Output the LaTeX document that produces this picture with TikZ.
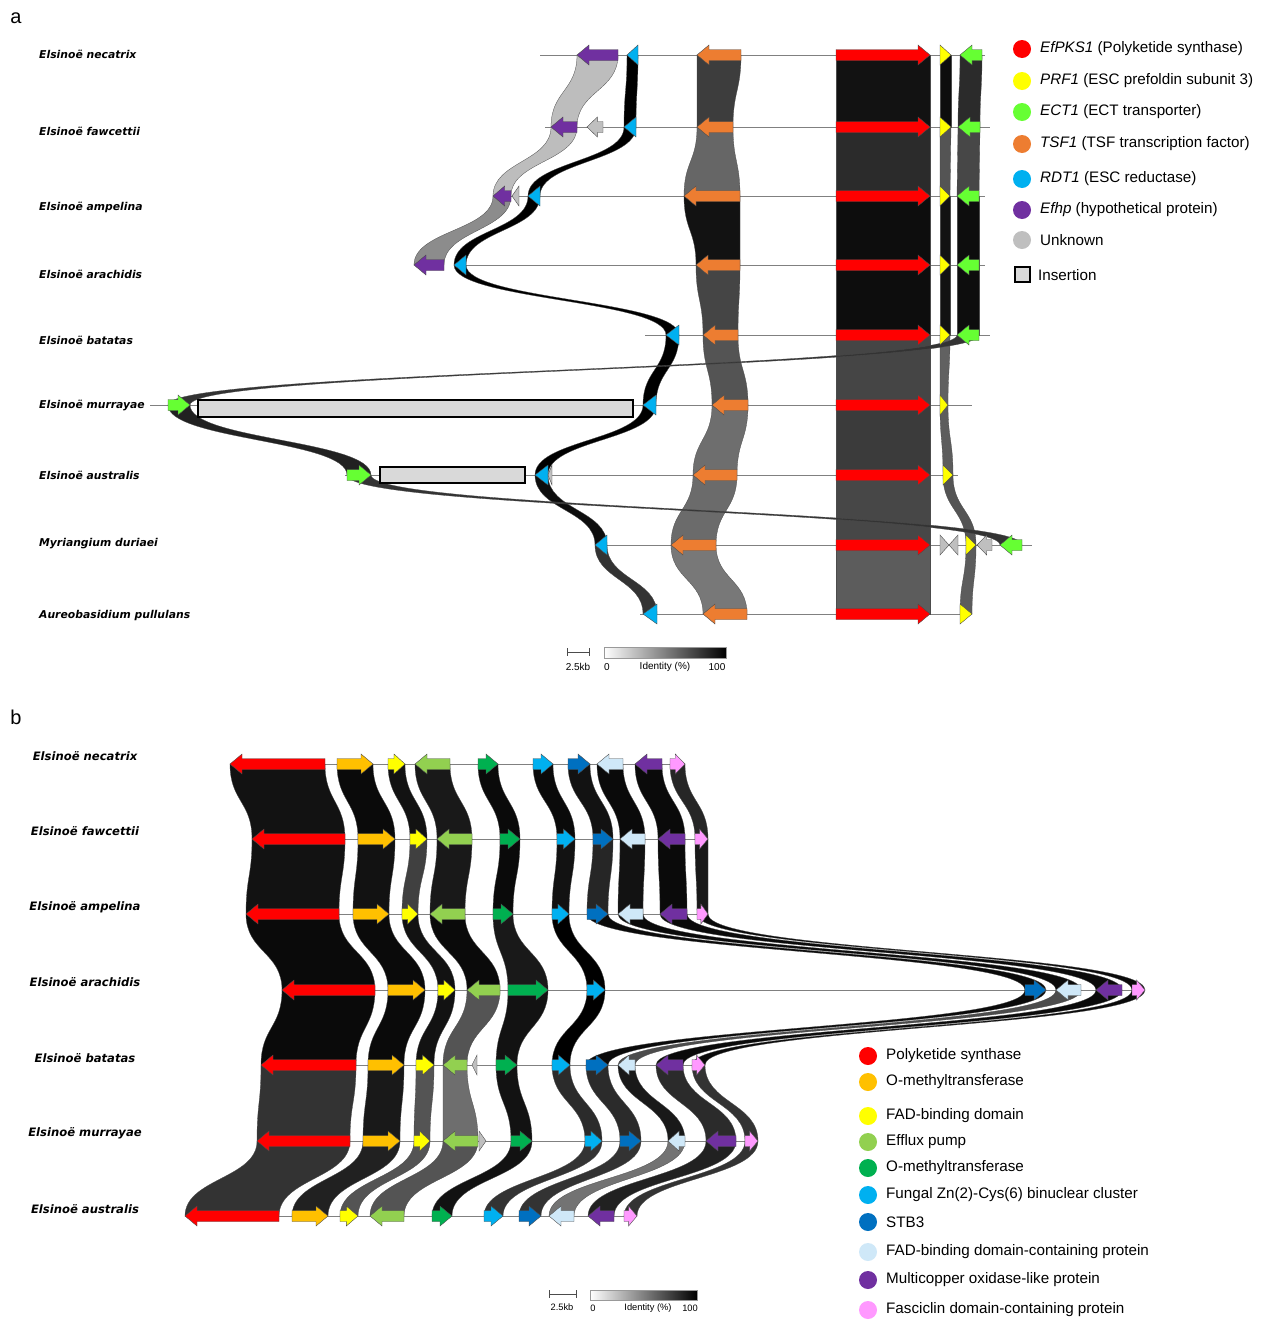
\documentclass[tikz,border=0pt]{standalone}
\usepackage{fontspec}
\setmainfont{Liberation Sans}
\newfontfamily\spfont{DejaVu Sans}
\usepackage{tikz}
\usetikzlibrary{calc}
\definecolor{pks}{HTML}{FF0000}
\definecolor{prf}{HTML}{FFFF00}
\definecolor{ect}{HTML}{66FF33}
\definecolor{tsf}{HTML}{ED7D31}
\definecolor{rdt}{HTML}{00B0F0}
\definecolor{efhp}{HTML}{7030A0}
\definecolor{unk}{HTML}{BFBFBF}
\definecolor{omt}{HTML}{FFC000}
\definecolor{effl}{HTML}{92D050}
\definecolor{omtb}{HTML}{00B050}
\definecolor{stb}{HTML}{0070C0}
\definecolor{fadc}{HTML}{CFE8F8}
\definecolor{fas}{HTML}{FF99FF}
\tikzset{
    gene/.style={draw=black!70,line width=0.4pt,line join=miter},
    band/.style={draw=black!70,line width=0.3pt},
    rowline/.style={draw=black!50,line width=0.9pt},
    insertion/.style={draw=black,line width=1.4pt,fill=black!15},
    species/.style={font=\spfont\bfseries\itshape\fontsize{10.8}{12}\selectfont,inner sep=0pt},
    legend text/.style={font=\fontsize{15.2}{17}\selectfont,anchor=west,inner sep=0pt},
    scale text/.style={font=\fontsize{10}{11}\selectfont,inner sep=0pt},
    panel/.style={font=\fontsize{20}{22}\selectfont,inner sep=0pt}
}
% gene arrows: colour, x1, x2, y
\newcommand\geneR[4]{%
  \pgfmathsetmacro\hx{#3-min(12,0.65*(#3-#2))}%
  \draw[gene,fill=#1] (#2,#4-5.5) -- (\hx,#4-5.5) -- (\hx,#4-10) -- (#3,#4)
    -- (\hx,#4+10) -- (\hx,#4+5.5) -- (#2,#4+5.5) -- cycle;}
\newcommand\geneL[4]{%
  \pgfmathsetmacro\hx{#2+min(12,0.65*(#3-#2))}%
  \draw[gene,fill=#1] (#3,#4-5.5) -- (\hx,#4-5.5) -- (\hx,#4-10) -- (#2,#4)
    -- (\hx,#4+10) -- (\hx,#4+5.5) -- (#3,#4+5.5) -- cycle;}
\newcommand\genetR[4]{\draw[gene,fill=#1] (#2,#4-10) -- (#3,#4) -- (#2,#4+10) -- cycle;}
\newcommand\genetL[4]{\draw[gene,fill=#1] (#3,#4-10) -- (#2,#4) -- (#3,#4+10) -- cycle;}
\newcommand\gene[5]{\csname gene#1\endcsname{#2}{#3}{#4}{#5}}
% link band: shade, x1, x2, y (top row), x1, x2, y (bottom row)
\newcommand\band[7]{%
  \pgfmathsetmacro\ym{(#4+#7)/2}%
  \draw[band,fill=#1] (#2,#4) .. controls (#2,\ym) and (#5,\ym) .. (#5,#7)
    -- (#6,#7) .. controls (#6,\ym) and (#3,\ym) .. (#3,#4) -- cycle;}

\begin{document}
\begin{tikzpicture}[x=1pt,y=-1pt]
\useasboundingbox (0,0) rectangle (1265,1320);
\node[panel] (pa) at (16,18) {a};
\node[panel] (pb) at (16,717) {b};

%%% panel a
\foreach \nm/\y [count=\i] in {{Elsinoë necatrix}/54,{Elsinoë fawcettii}/131,{Elsinoë ampelina}/207,
    {Elsinoë arachidis}/274,{Elsinoë batatas}/340,{Elsinoë murrayae}/405,{Elsinoë australis}/475,
    {Myriangium duriaei}/544,{Aureobasidium pullulans}/616}
    \node[species,anchor=west] (spa-\i) at (39,\y) {\nm};
\foreach \xa/\xb/\y in {540/985/55,545/990/127,505/985/196,455/985/265,645/990/335,
    150/972/405,345/958/475,595/1032/545,640/972/614}
    \draw[rowline] (\xa,\y) -- (\xb,\y);
% links
\foreach \sh/\xa/\xb/\ya/\xc/\xd/\yb in {26/577/618/55/551/577/127,26/551/577/127/493/511/196,
    45/493/511/196/414/444/265,
    100/627/638/55/624/636/127,100/624/636/127/528/540/196,100/528/540/196/454/466/265,
    100/454/466/265/666/679/335,100/666/679/335/643/656/405,100/643/656/405/535/548/475,
    95/535/548/475/595/607/545,80/595/607/545/643/657/614,
    76/697/741/55/697/733/127,60/697/733/127/684/740/196,93/684/740/196/696/740/265,
    73/696/740/265/703/738/335,67/703/738/335/712/748/405,57/712/748/405/693/737/475,
    58/693/737/475/671/716/545,53/671/716/545/703/747/614,
    93/836/930/55/836/930/127,83/836/930/127/836/930/196,95/836/930/196/836/930/265,
    95/836/930/265/836/930/335,73/836/930/335/836/930/405,77/836/930/405/836/930/475,
    72/836/930/475/836/930/545,64/836/930/545/836/930/614,
    95/940/951/55/940/951/127,67/940/951/127/940/950/196,93/940/950/196/940/950/265,
    93/940/950/265/940/950/335,62/940/950/335/940/948/405,64/940/948/405/943/953/475,
    67/943/953/475/966/976/545,64/966/976/545/960/972/614,
    83/960/982/55/958/980/127,72/958/980/127/957/979/196,95/957/979/196/957/979/265,
    95/957/979/265/957/979/335,80/957/979/335/168/190/405,87/168/190/405/347/371/475,
    80/347/371/475/1000/1022/545}
    \band{black!\sh}{\xa}{\xb}{\ya}{\xc}{\xd}{\yb};
\draw[insertion] (198,400) rectangle (633,417);
\draw[insertion] (380,467) rectangle (525,483);
% genes
\foreach \gd/\gc/\xa/\xb/\y in {L/efhp/577/618/55,tL/rdt/627/638/55,L/tsf/697/741/55,R/pks/836/930/55,
    tR/prf/940/951/55,L/ect/960/982/55,
    L/efhp/551/577/127,L/unk/587/603/127,tL/rdt/624/636/127,L/tsf/697/733/127,R/pks/836/930/127,
    tR/prf/940/951/127,L/ect/958/980/127,
    L/efhp/493/511/196,tL/unk/512/519/196,tL/rdt/528/540/196,L/tsf/684/740/196,R/pks/836/930/196,
    tR/prf/940/950/196,L/ect/957/979/196,
    L/efhp/414/444/265,tL/rdt/454/466/265,L/tsf/696/740/265,R/pks/836/930/265,
    tR/prf/940/950/265,L/ect/957/979/265,
    tL/rdt/666/679/335,L/tsf/703/738/335,R/pks/836/930/335,tR/prf/940/950/335,L/ect/957/979/335,
    R/ect/168/190/405,tL/rdt/643/656/405,L/tsf/712/748/405,R/pks/836/930/405,tR/prf/940/948/405,
    R/ect/347/371/475,tL/rdt/535/548/475,tL/unk/548/552/475,L/tsf/693/737/475,R/pks/836/930/475,
    tR/prf/943/953/475,
    tL/rdt/595/607/545,L/tsf/671/716/545,R/pks/836/930/545,tR/unk/940/949/545,tL/unk/949/958/545,
    tR/prf/966/976/545,L/unk/977/992/545,L/ect/1000/1022/545,
    tL/rdt/643/657/614,L/tsf/703/747/614,R/pks/836/930/614,tR/prf/960/972/614}
    \gene{\gd}{\gc}{\xa}{\xb}{\y};
% legend a
\foreach \y/\gc/\txt [count=\i] in {49/pks/{\textit{EfPKS1} (Polyketide synthase)},
    81/prf/{\textit{PRF1} (ESC prefoldin subunit 3)},112/ect/{\textit{ECT1} (ECT transporter)},
    144/tsf/{\textit{TSF1} (TSF transcription factor)},179/rdt/{\textit{RDT1} (ESC reductase)},
    210/efhp/{\textit{Efhp} (hypothetical protein)},240/unk/{Unknown}} {
    \fill[\gc] (1022,\y) circle (9);
    \node[legend text] (lga-\i) at (1040,\y) {\txt};
}
\draw[line width=1.2pt,fill=black!15] (1015,267) rectangle (1030,282);
\node[legend text] (lga-8) at (1038,275) {Insertion};
% scale a
\draw[black!70] (567,652) -- (589,652) (567,648) -- (567,656) (589,648) -- (589,656);
\node[scale text] (kba) at (578,667) {2.5kb};
\shade[left color=white,right color=black] (604,647) rectangle (726,658);
\draw[black!40] (604,647) rectangle (726,658);
\node[scale text] (ida-0) at (607,667) {0};
\node[scale text] (ida) at (665,667) {Identity (\%)};
\node[scale text] (ida-100) at (717,667) {100};

%%% panel b
\foreach \nm/\y [count=\i] in {necatrix/756,fawcettii/831,ampelina/907,arachidis/982,
    batatas/1058,murrayae/1133,australis/1209}
    \node[species,font=\spfont\bfseries\itshape\fontsize{11.6}{13}\selectfont] (spb-\i) at (85,\y) {Elsinoë \nm};
\foreach \xa/\xb/\y in {230/685/764,252/708/839,246/708/914,282/1145/990,261/705/1065,
    257/758/1141,185/637/1216}
    \draw[rowline] (\xa,\y) -- (\xb,\y);
% links
\foreach \sh/\xa/\xb/\xc/\xd in {93/230/325/252/345,96/337/373/358/395,93/388/405/410/427,
    90/415/450/437/472,96/478/498/500/520,96/533/553/557/575,93/568/590/593/613,
    96/597/623/620/645,96/635/662/658/685,85/670/685/695/708}
    \band{black!\sh}{\xa}{\xb}{764}{\xc}{\xd}{839};
\foreach \sh/\xa/\xb/\xc/\xd in {93/252/345/246/339,93/358/395/353/389,75/410/427/402/418,
    90/437/472/430/465,96/500/520/493/513,93/557/575/552/569,85/593/613/587/608,
    93/620/645/618/643,96/658/685/660/687,90/695/708/697/708}
    \band{black!\sh}{\xa}{\xb}{839}{\xc}{\xd}{914};
\foreach \sh/\xa/\xb/\xc/\xd in {96/246/339/282/375,96/353/389/388/425,93/402/418/438/455,
    96/430/465/467/500,90/493/513/508/548,100/552/569/587/605,96/587/608/1025/1046,
    96/618/643/1056/1081,96/660/687/1096/1122,96/697/708/1132/1145}
    \band{black!\sh}{\xa}{\xb}{914}{\xc}{\xd}{990};
\foreach \sh/\xa/\xb/\xc/\xd in {96/282/375/261/356,96/388/425/368/404,93/438/455/416/434,
    67/467/500/443/467,93/508/548/496/517,100/587/605/552/570,96/1025/1046/586/608,
    70/1056/1081/618/635,96/1096/1122/656/683,96/1132/1145/692/705}
    \band{black!\sh}{\xa}{\xb}{990}{\xc}{\xd}{1065};
\foreach \sh/\xa/\xb/\xc/\xd in {80/261/356/257/350,90/368/404/363/400,67/416/434/414/430,
    57/443/467/443/478,93/496/517/511/532,83/552/570/585/602,83/586/608/620/641,
    90/618/635/668/685,83/656/683/706/736,80/692/705/745/758}
    \band{black!\sh}{\xa}{\xb}{1065}{\xc}{\xd}{1141};
\foreach \sh/\xa/\xb/\xc/\xd in {80/257/350/185/279,87/363/400/292/328,67/414/430/340/358,
    67/443/478/370/404,93/511/532/432/452,80/585/602/484/503,80/620/641/519/541,
    55/668/685/549/574,87/706/736/588/614,80/745/758/624/637}
    \band{black!\sh}{\xa}{\xb}{1141}{\xc}{\xd}{1216};
% genes
\foreach \y/\ra/\rb/\oa/\ob/\ya/\yb/\la/\lb/\ga/\gb/\sa/\sb/\ba/\bb/\ca/\cb/\pa/\pb/\fa/\fb in {
    764/230/325/337/373/388/405/415/450/478/498/533/553/568/590/597/623/635/662/670/685,
    839/252/345/358/395/410/427/437/472/500/520/557/575/593/613/620/645/658/685/695/708,
    914/246/339/353/389/402/418/430/465/493/513/552/569/587/608/618/643/660/687/697/708,
    990/282/375/388/425/438/455/467/500/508/548/587/605/1025/1046/1056/1081/1096/1122/1132/1145,
    1065/261/356/368/404/416/434/443/467/496/517/552/570/586/608/618/635/656/683/692/705,
    1141/257/350/363/400/414/430/443/478/511/532/585/602/620/641/668/685/706/736/745/758,
    1216/185/279/292/328/340/358/370/404/432/452/484/503/519/541/549/574/588/614/624/637} {
    \geneL{pks}{\ra}{\rb}{\y}
    \geneR{omt}{\oa}{\ob}{\y}
    \geneR{prf}{\ya}{\yb}{\y}
    \geneL{effl}{\la}{\lb}{\y}
    \geneR{omtb}{\ga}{\gb}{\y}
    \geneR{rdt}{\sa}{\sb}{\y}
    \geneR{stb}{\ba}{\bb}{\y}
    \geneL{fadc}{\ca}{\cb}{\y}
    \geneL{efhp}{\pa}{\pb}{\y}
    \geneR{fas}{\fa}{\fb}{\y}
}
\genetL{unk}{472}{477}{1065}
\genetR{unk}{479}{486}{1141}
% legend b
\foreach \y/\gc/\txt [count=\i] in {1056/pks/Polyketide synthase,1082/omt/O-methyltransferase,
    1116/prf/FAD-binding domain,1142/effl/Efflux pump,1168/omtb/O-methyltransferase,
    1195/rdt/{Fungal Zn(2)-Cys(6) binuclear cluster},1222/stb/STB3,
    1252/fadc/FAD-binding domain-containing protein,1280/efhp/Multicopper oxidase-like protein,
    1310/fas/Fasciclin domain-containing protein} {
    \fill[\gc] (868,\y) circle (9);
    \node[legend text] (lgb-\i) at (886,\y) {\txt};
}
% scale b
\draw[black!70] (549,1294) -- (576,1294) (549,1290) -- (549,1298) (576,1290) -- (576,1298);
\node[scale text,font=\fontsize{9.3}{10}\selectfont] (kbb) at (562,1307) {2.5kb};
\shade[left color=white,right color=black] (590,1290) rectangle (697,1300);
\draw[black!40] (590,1290) rectangle (697,1300);
\node[scale text,font=\fontsize{9.3}{10}\selectfont] (idb-0) at (593,1308) {0};
\node[scale text,font=\fontsize{9.3}{10}\selectfont] (idb) at (648,1308) {Identity (\%)};
\node[scale text,font=\fontsize{9.3}{10}\selectfont] (idb-100) at (690,1308) {100};
\end{tikzpicture}
\end{document}
